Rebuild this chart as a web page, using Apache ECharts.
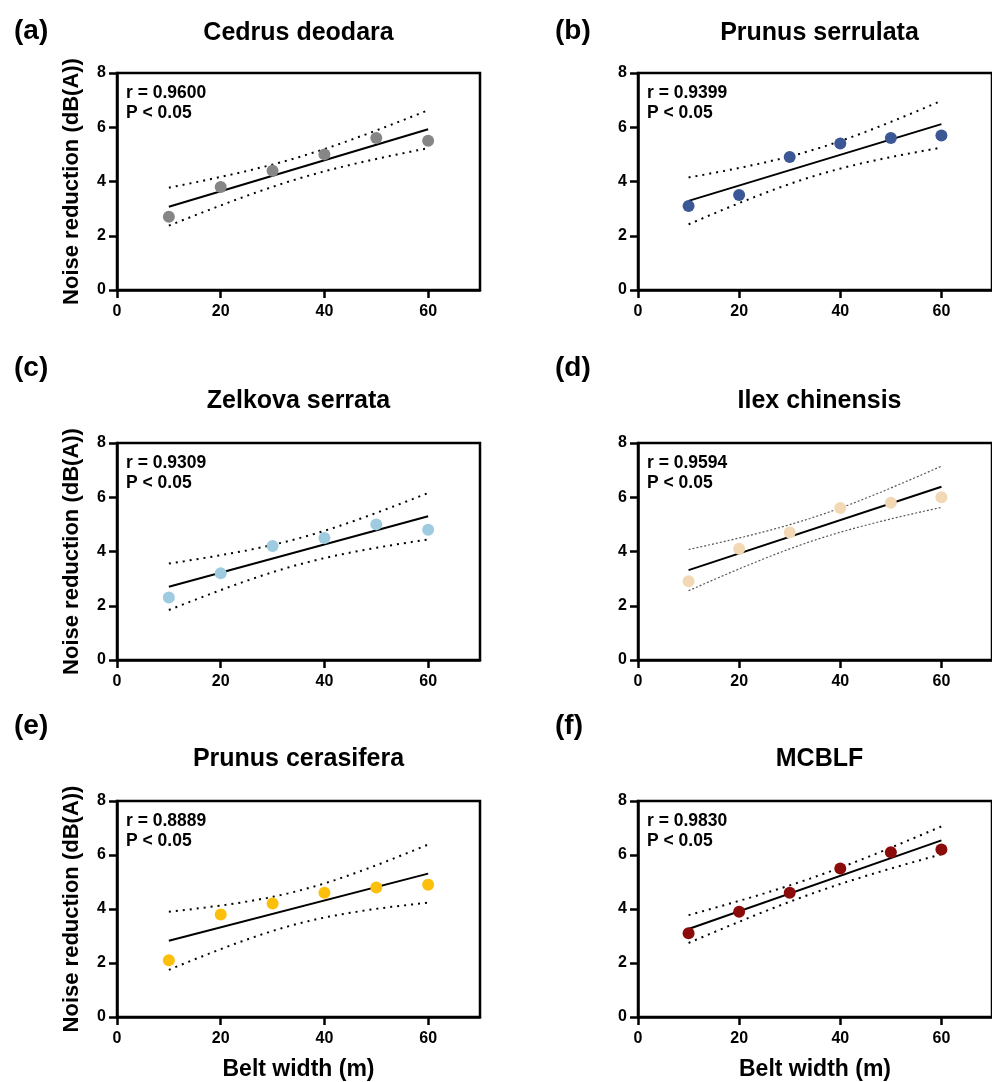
<!DOCTYPE html>
<html>
<head>
<meta charset="utf-8">
<script src="https://cdn.jsdelivr.net/npm/echarts@6/dist/echarts.min.js"></script>
<style>
  html, body { margin: 0; padding: 0; background: #fff; }
  #main { width: 992px; height: 1082px; }
</style>
</head>
<body>
<div id="main"></div>
<script>
// belt width (m), shared x values for every panel
const beltWidth = [10, 20, 30, 40, 50, 60]

// noise reduction (dB(A)) per species
const cedrusDeodara = [2.7, 3.8, 4.4, 5.0, 5.6, 5.5]
const prunusSerrulata = [3.1, 3.5, 4.9, 5.4, 5.6, 5.7]
const zelkovaSerrata = [2.3, 3.2, 4.2, 4.5, 5.0, 4.8]
const ilexChinensis = [2.9, 4.1, 4.7, 5.6, 5.8, 6.0]
const prunusCerasifera = [2.1, 3.8, 4.2, 4.6, 4.8, 4.9]
const mcblf = [3.1, 3.9, 4.6, 5.5, 6.1, 6.2]

const panelTitles = ['Cedrus deodara', 'Prunus serrulata', 'Zelkova serrata', 'Ilex chinensis', 'Prunus cerasifera', 'MCBLF']
const panelLetters = ['(a)', '(b)', '(c)', '(d)', '(e)', '(f)']
const rLabels = ['r = 0.9600', 'r = 0.9399', 'r = 0.9309', 'r = 0.9594', 'r = 0.8889', 'r = 0.9830']
const pLabel = 'P < 0.05'
const xTicks = [0, 20, 40, 60]

const seriesValues = [cedrusDeodara, prunusSerrulata, zelkovaSerrata, ilexChinensis, prunusCerasifera, mcblf]
const dotColors = ['#868686', '#3b5795', '#9ecbe0', '#f3d8b6', '#fbbf0c', '#8b0b0b']

const FONT = '"Liberation Sans", Arial, Helvetica, sans-serif'
const colLeft = [117, 638]
const rowTop = [73, 443, 801]
const plotW = 363
const plotH = 217
const T_CRIT = 2.776 // t(0.975, df = 4)

// simple linear fit with 95% confidence band of the mean
function linFit(xs, ys) {
  const n = xs.length
  const mx = xs.reduce((s, v) => s + v, 0) / n
  const my = ys.reduce((s, v) => s + v, 0) / n
  let sxx = 0, sxy = 0
  xs.forEach((x, k) => { sxx += (x - mx) * (x - mx); sxy += (x - mx) * (ys[k] - my) })
  const b = sxy / sxx
  const a = my - b * mx
  let sse = 0
  xs.forEach((x, k) => { const r = ys[k] - (a + b * x); sse += r * r })
  const se = Math.sqrt(sse / (n - 2))
  return {
    y: x => a + b * x,
    half: x => T_CRIT * se * Math.sqrt(1 / n + (x - mx) * (x - mx) / sxx)
  }
}

const grids = [], xAxes = [], yAxes = [], series = [], texts = []

seriesValues.forEach((ys, i) => {
  const col = i % 2
  const row = Math.floor(i / 2)
  const left = colLeft[col]
  const top = rowTop[row]
  grids.push({
    left: left, top: top, width: plotW, height: plotH,
    show: true, borderColor: '#000', borderWidth: 2.5, backgroundColor: 'transparent'
  })
  xAxes.push({
    gridIndex: i, type: 'value', min: 0, max: 70, interval: 20,
    name: row === 2 ? 'Belt width (m)' : '',
    nameLocation: 'middle', nameGap: 41,
    nameTextStyle: { fontFamily: FONT, fontWeight: 'bold', fontSize: 23, color: '#000' },
    axisLine: { show: true, onZero: false, lineStyle: { color: '#000', width: 2.5 } },
    axisTick: { show: true, length: 8, lineStyle: { color: '#000', width: 2.5 }, customValues: xTicks },
    axisLabel: { color: '#000', fontFamily: FONT, fontWeight: 'bold', fontSize: 16, margin: 14, customValues: xTicks },
    splitLine: { show: false }
  })
  yAxes.push({
    gridIndex: i, type: 'value', min: 0, max: 8, interval: 2,
    name: col === 0 ? 'Noise reduction (dB(A))' : '',
    nameLocation: 'middle', nameGap: 34,
    nameTextStyle: { fontFamily: FONT, fontWeight: 'bold', fontSize: 22, color: '#000' },
    axisLine: { show: true, onZero: false, lineStyle: { color: '#000', width: 2.5 } },
    axisTick: { show: true, length: 8, lineStyle: { color: '#000', width: 2.5 } },
    axisLabel: { color: '#000', fontFamily: FONT, fontWeight: 'bold', fontSize: 16, margin: 11 },
    splitLine: { show: false }
  })

  const f = linFit(beltWidth, ys)
  const x0 = beltWidth[0], x1 = beltWidth[beltWidth.length - 1]
  const upper = [], lower = []
  for (let x = x0; x <= x1; x += 1) {
    upper.push([x, f.y(x) + f.half(x)])
    lower.push([x, f.y(x) - f.half(x)])
  }
  const thin = i === 3
  const dotStyle = thin
    ? { color: '#555', width: 1.2, type: [2, 2] }
    : { color: '#000', width: 2, type: [2, 5] }
  series.push({
    type: 'line', xAxisIndex: i, yAxisIndex: i, symbol: 'none', silent: true,
    data: [[x0, f.y(x0)], [x1, f.y(x1)]],
    lineStyle: { color: '#000', width: 2 }, z: 3
  })
  series.push({
    type: 'line', xAxisIndex: i, yAxisIndex: i, symbol: 'none', silent: true,
    data: upper, lineStyle: dotStyle, z: 2
  })
  series.push({
    type: 'line', xAxisIndex: i, yAxisIndex: i, symbol: 'none', silent: true,
    data: lower, lineStyle: dotStyle, z: 2
  })
  series.push({
    type: 'scatter', xAxisIndex: i, yAxisIndex: i, symbolSize: 12,
    data: beltWidth.map((x, k) => [x, ys[k]]),
    itemStyle: { color: dotColors[i], opacity: 1 }, z: 4
  })

  // panel texts
  const titleY = row === 0 ? 33 : top - 42
  const letterY = row === 0 ? 31 : top - 75
  texts.push({
    type: 'text', x: left + plotW / 2, y: titleY,
    style: { text: panelTitles[i], fill: '#000', font: 'bold 25px ' + FONT, align: 'center', verticalAlign: 'middle' }
  })
  texts.push({
    type: 'text', x: col === 0 ? 14 : 555, y: letterY,
    style: { text: panelLetters[i], fill: '#000', font: 'bold 28px ' + FONT, align: 'left', verticalAlign: 'middle' }
  })
  texts.push({
    type: 'text', x: left + 9, y: top + 20,
    style: { text: rLabels[i], fill: '#000', font: 'bold 17.5px ' + FONT, align: 'left', verticalAlign: 'middle' }
  })
  texts.push({
    type: 'text', x: left + 9, y: top + 40,
    style: { text: pLabel, fill: '#000', font: 'bold 17.5px ' + FONT, align: 'left', verticalAlign: 'middle' }
  })
})

const chart = echarts.init(document.getElementById('main'), null, { renderer: 'canvas' })
chart.setOption({
  animation: false,
  backgroundColor: '#fff',
  grid: grids,
  xAxis: xAxes,
  yAxis: yAxes,
  series: series,
  graphic: texts
})
</script>
</body>
</html>
